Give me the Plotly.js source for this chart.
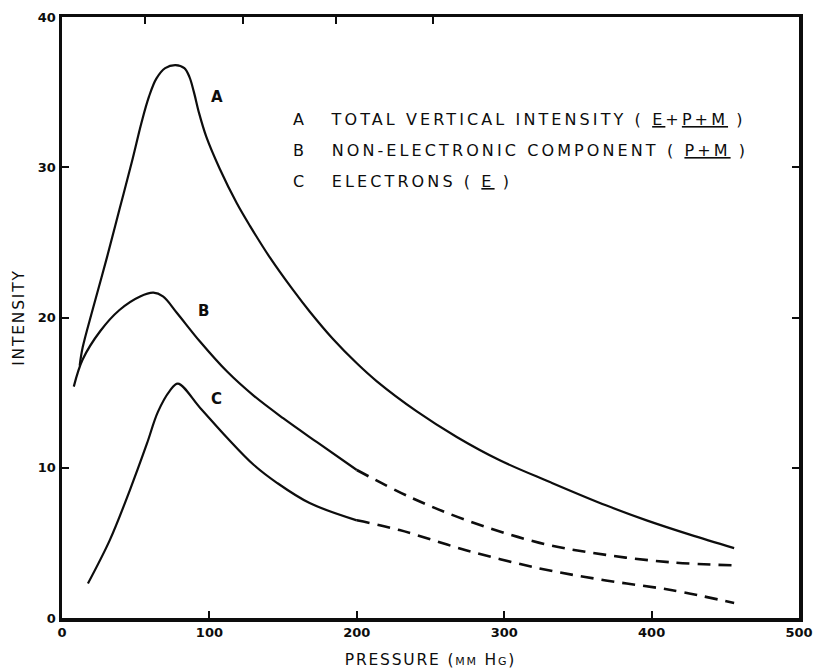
<!DOCTYPE html>
<html>
<head>
<meta charset="utf-8">
<script src="https://cdn.plot.ly/plotly-3.0.1.min.js"></script>
<style>html,body{margin:0;padding:0;background:#fff;}#chart{width:814px;height:670px;}</style>
</head>
<body>
<div id="chart"></div>
<script>
// Pressure (mm Hg) and intensity values
const aX = [12, 14, 21, 30.5, 39, 47.5, 54, 59, 64, 70, 77, 83, 86.5, 89.5, 93, 98, 107, 118.6, 127.5, 141, 156.6, 168, 184, 200, 213.6, 240.7, 267.8, 297, 331, 369, 396.6, 426, 456];
const aY = [16.8, 18.0, 20.6, 24.0, 27.2, 30.4, 33.0, 34.7, 35.9, 36.6, 36.8, 36.6, 36.0, 35.0, 33.6, 32.0, 29.9, 27.6, 26.1, 24.0, 21.85, 20.4, 18.55, 16.95, 15.75, 13.75, 12.05, 10.5, 9.05, 7.5, 6.5, 5.55, 4.65];

const bSolidX = [8, 14, 26, 39, 53, 62, 68.5, 78, 93.6, 112, 130, 150, 173, 200];
const bSolidY = [15.4, 17.2, 19.1, 20.5, 21.4, 21.65, 21.4, 20.3, 18.4, 16.4, 14.8, 13.3, 11.7, 9.85];
const bDashX = [200, 236, 274.6, 324, 369, 414, 456];
const bDashY = [9.85, 8.05, 6.5, 5.0, 4.2, 3.7, 3.5];

const cSolidX = [17.6, 32.5, 46, 57.6, 65, 73, 78.6, 93.6, 112, 130, 145.8, 168, 200];
const cSolidY = [2.3, 5.2, 8.5, 11.6, 13.7, 15.1, 15.6, 14.0, 12.0, 10.2, 9.0, 7.65, 6.5];
const cDashX = [200, 229, 274.6, 324, 369, 414, 456];
const cDashY = [6.5, 5.85, 4.5, 3.3, 2.5, 1.85, 1.0];

const xTicks = [0, 100, 200, 300, 400, 500];
const yTicks = [0, 10, 20, 30, 40];
const topTicks = [56, 123, 186, 252];

const curveLabels = [
  {name: 'A', x: 105, y: 34.7},
  {name: 'B', x: 96, y: 20.4},
  {name: 'C', x: 105, y: 14.6}
];
const legendLines = [
  "A&nbsp;&nbsp;&nbsp;TOTAL VERTICAL INTENSITY ( <u>E</u>+<u>P+M</u> )",
  "B&nbsp;&nbsp;&nbsp;NON-ELECTRONIC COMPONENT ( <u>P+M</u> )",
  "C&nbsp;&nbsp;&nbsp;ELECTRONS ( <u>E</u> )"
];

const ink = '#0d0d0d';
const FONT = 'DejaVu Sans, Liberation Sans, sans-serif';

const solid = {color: ink, width: 2.2, shape: 'spline', smoothing: 1};
const dashed = {color: ink, width: 2.6, dash: '13px,8px', shape: 'spline', smoothing: 1};

const traces = [
  {x: aX, y: aY, mode: 'lines', line: solid, showlegend: false, hoverinfo: 'skip'},
  {x: bSolidX, y: bSolidY, mode: 'lines', line: solid, showlegend: false, hoverinfo: 'skip'},
  {x: bDashX, y: bDashY, mode: 'lines', line: dashed, showlegend: false, hoverinfo: 'skip'},
  {x: cSolidX, y: cSolidY, mode: 'lines', line: solid, showlegend: false, hoverinfo: 'skip'},
  {x: cDashX, y: cDashY, mode: 'lines', line: dashed, showlegend: false, hoverinfo: 'skip'},
  {x: [null], y: [null], xaxis: 'x2', mode: 'lines', showlegend: false, hoverinfo: 'skip'}
];

const annotations = curveLabels.map(l => ({
  x: l.x, y: l.y, xref: 'x', yref: 'y', text: l.name, showarrow: false,
  font: {family: FONT, size: 15, color: ink, weight: 'bold'}
}));
legendLines.forEach((t, i) => {
  annotations.push({
    x: 0.311, y: 0.829 - i * 0.0515, xref: 'paper', yref: 'paper', xanchor: 'left', yanchor: 'middle',
    text: "<span style='letter-spacing:3.1px'>" + t + "</span>", showarrow: false,
    font: {family: FONT, size: 16, color: ink}
  });
});

const layout = {
  width: 814, height: 670,
  margin: {l: 62, r: 15, t: 17, b: 52},
  paper_bgcolor: '#fff', plot_bgcolor: '#fff',
  showlegend: false,
  xaxis: {
    range: [0, 500], tickvals: xTicks, ticktext: xTicks.map(String),
    ticks: 'inside', ticklen: 7, tickwidth: 2, tickcolor: ink,
    showline: true, linewidth: 3.5, linecolor: ink, mirror: true,
    showgrid: false, zeroline: false,
    tickfont: {family: FONT, size: 13, color: ink, weight: 'bold'},
    title: {text: "<span style='letter-spacing:1.8px'>PRESSURE (<span style='font-size:11px'>MM</span> H<span style='font-size:11px'>G</span>)</span>", standoff: 16,
            font: {family: FONT, size: 15.5, color: ink}}
  },
  xaxis2: {
    overlaying: 'x', side: 'top', range: [0, 500], tickvals: topTicks, showticklabels: false,
    ticks: 'inside', ticklen: 7, tickwidth: 2, tickcolor: ink,
    showline: false, showgrid: false, zeroline: false
  },
  yaxis: {
    range: [0, 40], tickvals: yTicks, ticktext: yTicks.map(String),
    ticks: 'inside', ticklen: 7, tickwidth: 2, tickcolor: ink,
    showline: true, linewidth: 3.5, linecolor: ink, mirror: 'ticks',
    showgrid: false, zeroline: false,
    tickfont: {family: FONT, size: 13, color: ink, weight: 'bold'},
    title: {text: "<span style='letter-spacing:1.8px'>INTENSITY</span>", standoff: 10, font: {family: FONT, size: 15.5, color: ink}}
  },
  annotations: annotations
};

Plotly.newPlot('chart', traces, layout, {staticPlot: true, displayModeBar: false});
</script>
</body>
</html>
